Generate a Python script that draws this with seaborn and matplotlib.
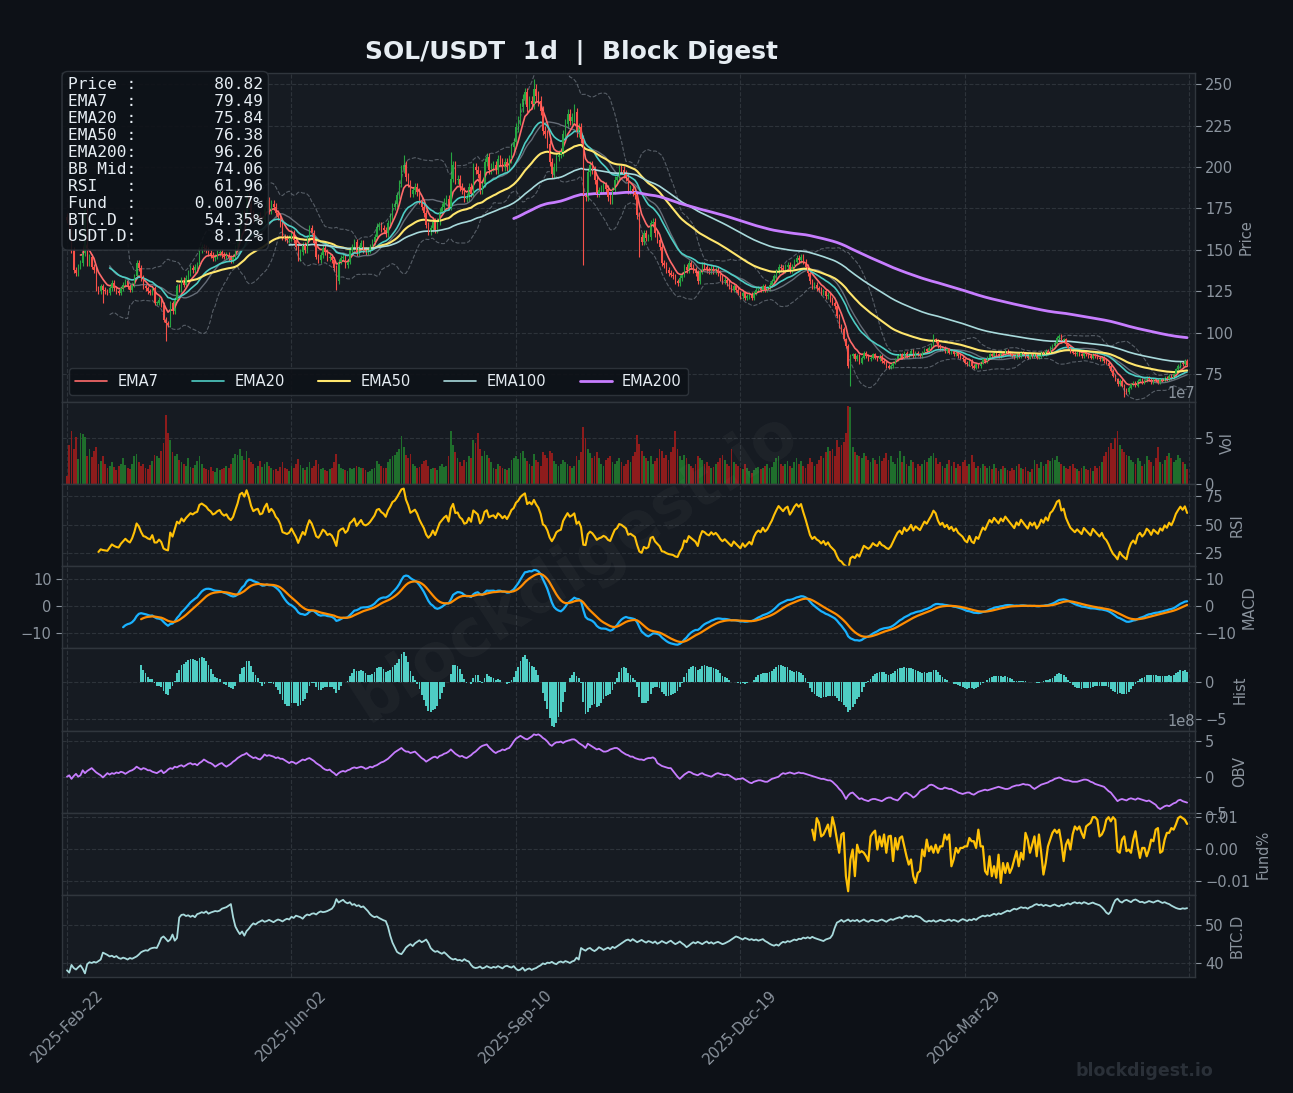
#!/usr/bin/env python3
"""
SOL/USDT 1d dashboard - candles, EMAs, volume and indicator panels.
"""
import numpy as np
import pandas as pd
import matplotlib
matplotlib.use("Agg")
import matplotlib.pyplot as plt
from matplotlib.ticker import MultipleLocator
import seaborn as sns

# ---------------------------------------------------------------- data
start_date = "2025-02-22"
first_open = 170

# daily closes (USDT)
close = [
    168, 164, 150, 138, 136, 140, 142, 148, 174, 142,
    146, 140, 138, 127, 125, 128, 126, 125, 124, 127,
    130, 127, 125, 124, 127, 129, 131, 128, 126, 129,
    134, 142, 139, 133, 128, 127, 125, 124, 127, 118,
    118, 120, 117, 108, 106, 105, 118, 113, 120, 128,
    126, 132, 129, 133, 136, 139, 138, 140, 141, 150,
    152, 151, 150, 148, 147, 145, 146, 148, 149, 147,
    146, 147, 145, 144, 146, 151, 157, 169, 172, 170,
    182, 178, 172, 168, 170, 171, 167, 168, 175, 180,
    174, 178, 176, 172, 170, 166, 158, 157, 156, 157,
    160, 156, 152, 145, 149, 153, 150, 157, 163, 160,
    154, 146, 144, 147, 151, 149, 145, 146, 144, 139,
    131, 143, 145, 146, 141, 143, 150, 152, 155, 148,
    151, 154, 150, 149, 150, 152, 155, 158, 164, 165,
    163, 162, 160, 166, 170, 176, 178, 183, 190, 199,
    201, 194, 190, 184, 186, 188, 185, 180, 176, 172,
    165, 161, 163, 167, 162, 167, 173, 176, 179, 181,
    176, 193, 201, 192, 193, 188, 186, 181, 182, 188,
    184, 200, 198, 196, 186, 190, 203, 206, 198, 200,
    201, 198, 205, 203, 200, 203, 200, 205, 212, 215,
    224, 228, 236, 241, 245, 236, 240, 238, 247, 243,
    240, 234, 222, 220, 214, 203, 196, 200, 206, 208,
    209, 220, 226, 232, 228, 230, 233, 221, 224, 217,
    183, 182, 197, 201, 198, 192, 184, 186, 187, 189,
    187, 182, 180, 186, 192, 194, 199, 198, 196, 194,
    186, 187, 185, 183, 171, 158, 155, 160, 157, 158,
    166, 167, 160, 156, 152, 142, 141, 138, 136, 135,
    134, 131, 130, 133, 135, 140, 138, 142, 140, 138,
    136, 131, 137, 141, 140, 138, 137, 139, 137, 138,
    136, 133, 131, 132, 130, 128, 126, 128, 126, 124,
    122, 124, 121, 122, 123, 121, 124, 126, 127, 126,
    128, 126, 127, 129, 131, 134, 137, 140, 139, 138,
    140, 141, 138, 140, 143, 145, 144, 146, 143, 140,
    136, 131, 128, 129, 127, 126, 124, 125, 122, 123,
    120, 118, 116, 110, 104, 102, 96, 92, 80, 86,
    87, 84, 86, 82, 85, 88, 86, 84, 85, 87,
    85, 84, 86, 83, 82, 80, 79, 80, 82, 84,
    86, 87, 85, 88, 86, 87, 89, 86, 88, 87,
    86, 88, 90, 89, 91, 93, 96, 95, 92, 90,
    91, 89, 90, 88, 89, 87, 88, 86, 85, 84,
    82, 81, 83, 80, 79, 81, 80, 82, 84, 83,
    85, 87, 86, 88, 87, 86, 88, 87, 89, 88,
    87, 86, 85, 87, 86, 88, 87, 86, 85, 87,
    86, 87, 85, 86, 88, 87, 89, 88, 91, 92,
    94, 97, 98, 95, 96, 93, 91, 89, 88, 87,
    88, 87, 86, 88, 87, 86, 85, 87, 86, 85,
    84, 85, 83, 82, 80, 77, 74, 72, 69, 71,
    68, 66, 64, 67, 69, 70, 68, 71, 72, 70,
    71, 73, 72, 70, 72, 71, 70, 72, 71, 73,
    72, 74, 73, 75, 78, 80, 82, 81, 83, 80.82,
]

wick_lows = {16: 118, 44: 95, 120: 126, 230: 141, 255: 146, 349: 68, 471: 61.5}
wick_highs = {8: 180, 150: 207, 171: 209, 208: 253, 226: 238, 386: 99, 442: 99}

# daily volume, millions of SOL
volume_m = [
    9, 42, 58, 38, 51, 27, 56, 54, 51, 30,
    38, 29, 36, 40, 22, 25, 30, 22, 18, 20,
    24, 19, 15, 20, 22, 28, 21, 17, 16, 22,
    30, 33, 24, 20, 22, 18, 16, 21, 25, 32,
    30, 28, 36, 45, 75, 56, 48, 35, 30, 33,
    26, 24, 22, 20, 28, 19, 17, 21, 25, 30,
    22, 18, 16, 15, 19, 14, 13, 17, 15, 16,
    18, 20, 17, 22, 28, 33, 32, 38, 30, 26,
    36, 28, 24, 22, 18, 20, 25, 19, 22, 24,
    20, 17, 15, 16, 14, 19, 24, 18, 16, 14,
    20, 18, 22, 27, 21, 17, 15, 19, 24, 18,
    20, 26, 22, 16, 17, 15, 14, 16, 18, 24,
    33, 22, 18, 16, 15, 14, 17, 16, 18, 20,
    19, 17, 18, 15, 13, 14, 16, 18, 25, 22,
    20, 18, 17, 24, 27, 30, 32, 35, 38, 52,
    40, 32, 28, 33, 22, 20, 18, 19, 22, 25,
    26, 20, 16, 17, 18, 15, 20, 22, 19, 20,
    30, 58, 42, 35, 28, 24, 20, 26, 24, 30,
    28, 48, 45, 55, 38, 30, 36, 32, 28, 24,
    18, 16, 22, 20, 17, 16, 15, 18, 26, 28,
    30, 27, 34, 36, 28, 25, 22, 20, 33, 26,
    24, 20, 35, 32, 28, 36, 34, 25, 22, 20,
    22, 26, 24, 22, 20, 18, 20, 30, 26, 35,
    62, 50, 38, 34, 28, 30, 35, 28, 22, 20,
    26, 28, 30, 24, 22, 25, 28, 24, 20, 22,
    26, 24, 30, 35, 53, 44, 36, 30, 28, 25,
    30, 22, 25, 28, 38, 36, 28, 32, 26, 35,
    40, 58, 38, 30, 26, 32, 28, 22, 20, 18,
    22, 30, 28, 26, 22, 24, 20, 18, 19, 22,
    24, 28, 32, 26, 22, 20, 38, 24, 22, 20,
    18, 16, 22, 18, 14, 12, 15, 17, 19, 16,
    18, 20, 22, 17, 19, 24, 28, 30, 22, 20,
    22, 25, 20, 18, 24, 28, 22, 25, 20, 18,
    22, 28, 24, 20, 22, 26, 30, 28, 35, 40,
    36, 38, 30, 48, 40, 42, 46, 55, 85, 84,
    40, 35, 32, 30, 28, 34, 30, 26, 24, 28,
    26, 22, 30, 25, 28, 34, 26, 30, 24, 22,
    28, 36, 24, 30, 22, 20, 26, 24, 18, 22,
    20, 22, 26, 24, 28, 30, 34, 28, 22, 24,
    20, 18, 22, 26, 20, 24, 18, 22, 20, 24,
    26, 20, 22, 32, 24, 18, 20, 17, 22, 20,
    18, 20, 16, 22, 18, 14, 16, 20, 18, 15,
    14, 17, 15, 20, 22, 18, 16, 19, 14, 13,
    16, 26, 22, 18, 24, 20, 22, 26, 25, 28,
    26, 30, 24, 22, 20, 18, 16, 20, 22, 18,
    16, 14, 18, 20, 16, 15, 17, 14, 20, 18,
    20, 24, 30, 35, 40, 45, 38, 50, 58, 42,
    38, 35, 32, 30, 26, 24, 22, 28, 25, 20,
    22, 30, 26, 24, 20, 28, 40, 24, 22, 26,
    30, 34, 28, 24, 26, 32, 28, 24, 22, 16,
]

# on-balance volume, units of 1e8
obv_e8 = [
    0.0, 0.2, -0.3, 0.1, 0.4, 0.0, 0.2, 0.9, 0.5, 0.8,
    1.0, 1.2, 0.9, 0.6, 0.4, 0.2, -0.1, 0.2, 0.5, 0.3,
    0.5, 0.4, 0.6, 0.5, 0.7, 0.6, 0.4, 0.6, 0.8, 0.9,
    1.1, 1.4, 1.2, 1.0, 1.2, 1.1, 0.9, 0.9, 0.7, 0.6,
    0.5, 0.7, 0.9, 0.5, 0.7, 1.0, 1.2, 1.1, 1.4, 1.3,
    1.5, 1.6, 1.4, 1.6, 1.8, 1.9, 1.7, 1.8, 1.6, 1.9,
    2.1, 2.4, 2.2, 2.0, 1.9, 1.7, 1.4, 1.6, 1.8, 1.9,
    1.6, 1.4, 1.6, 1.8, 2.1, 2.3, 2.6, 2.8, 3.0, 3.1,
    3.3, 3.0, 2.8, 2.6, 2.7, 2.5, 2.4, 2.7, 3.1, 2.9,
    3.0, 2.9, 2.8, 2.6, 2.7, 2.5, 2.5, 2.3, 2.1, 1.9,
    2.1, 2.0, 1.8, 2.0, 2.2, 2.4, 2.3, 2.5, 2.6, 2.4,
    2.2, 1.9, 1.7, 1.5, 1.2, 1.0, 0.9, 1.0, 0.7, 0.5,
    0.2, 0.5, 0.7, 0.8, 0.7, 0.9, 1.0, 1.2, 1.3, 1.2,
    1.3, 1.4, 1.3, 1.1, 1.2, 1.4, 1.3, 1.5, 1.6, 1.8,
    2.0, 2.1, 2.3, 2.5, 2.8, 3.1, 3.4, 3.6, 3.8, 4.0,
    3.7, 3.5, 3.5, 3.3, 3.4, 3.5, 3.2, 2.9, 2.6, 2.4,
    2.1, 2.3, 2.5, 2.7, 2.8, 2.6, 2.9, 3.0, 3.2, 3.3,
    3.5, 3.8, 3.5, 3.2, 3.0, 2.8, 2.9, 2.7, 2.6, 2.8,
    3.0, 3.3, 3.5, 3.8, 4.1, 4.3, 4.4, 4.5, 4.1, 3.8,
    3.5, 3.3, 3.5, 3.6, 3.8, 3.7, 3.9, 4.0, 4.4, 4.9,
    5.3, 5.5, 5.7, 5.5, 5.3, 5.2, 5.4, 5.6, 5.9, 5.8,
    5.9, 5.7, 5.4, 5.2, 4.9, 4.5, 4.3, 4.6, 4.8, 4.8,
    4.9, 4.7, 4.9, 5.0, 5.1, 5.2, 5.2, 5.0, 4.7, 4.5,
    4.3, 4.0, 4.6, 4.4, 4.2, 4.0, 3.8, 3.9, 3.7, 3.5,
    3.5, 3.6, 3.8, 3.9, 4.0, 4.0, 3.8, 3.5, 3.3, 3.1,
    3.0, 2.8, 2.8, 2.6, 2.5, 2.4, 2.4, 2.3, 2.5, 2.6,
    2.6, 2.7, 2.5, 1.9, 1.7, 1.5, 1.4, 1.3, 1.2, 1.2,
    0.8, 0.4, 0.0, -0.3, 0.0, 0.3, 0.5, 0.7, 0.6, 0.4,
    0.3, 0.2, 0.4, 0.5, 0.3, 0.2, 0.1, 0.0, 0.2, 0.4,
    0.5, 0.4, 0.3, 0.2, 0.3, 0.2, 0.0, -0.2, -0.4, -0.3,
    -0.3, -0.2, -0.4, -0.6, -0.8, -0.9, -0.7, -0.6, -0.5, -0.5,
    -0.6, -0.7, -0.7, -0.5, -0.3, -0.2, -0.1, 0.0, 0.3, 0.5,
    0.4, 0.5, 0.6, 0.5, 0.4, 0.5, 0.6, 0.5, 0.5, 0.4,
    0.3, 0.2, 0.1, 0.0, -0.1, -0.2, -0.3, -0.3, -0.4, -0.5,
    -0.5, -0.7, -1.0, -1.3, -1.7, -2.0, -2.5, -3.1, -2.6, -2.3,
    -2.2, -2.5, -2.8, -3.1, -3.0, -3.2, -3.3, -3.4, -3.2, -3.1,
    -3.1, -3.2, -3.3, -3.4, -3.2, -3.0, -2.9, -2.9, -3.1, -3.2,
    -3.3, -3.0, -2.6, -2.3, -2.2, -2.4, -2.6, -2.9, -2.7, -2.4,
    -2.0, -1.8, -1.7, -1.5, -1.2, -1.1, -1.2, -1.4, -1.6, -1.7,
    -1.7, -1.5, -1.6, -1.7, -1.7, -1.9, -2.0, -2.2, -2.3, -2.4,
    -2.3, -2.2, -2.2, -2.4, -2.5, -2.3, -2.1, -2.0, -1.9, -1.8,
    -1.9, -1.8, -1.7, -1.6, -1.5, -1.4, -1.5, -1.6, -1.7, -1.7,
    -1.6, -1.4, -1.3, -1.2, -1.2, -1.1, -1.0, -1.1, -1.1, -1.2,
    -1.5, -1.7, -1.5, -1.3, -1.1, -1.0, -0.9, -0.8, -0.6, -0.5,
    -0.3, -0.2, -0.1, -0.2, -0.4, -0.5, -0.5, -0.6, -0.7, -0.7,
    -0.7, -0.6, -0.5, -0.4, -0.4, -0.5, -0.7, -0.8, -1.0, -1.1,
    -1.2, -1.3, -1.4, -1.7, -2.0, -2.2, -2.6, -3.0, -3.4, -3.2,
    -3.1, -3.2, -3.3, -3.1, -3.0, -3.1, -3.2, -3.0, -3.1, -3.2,
    -3.3, -3.4, -3.3, -3.5, -3.7, -3.9, -4.3, -4.5, -4.3, -4.1,
    -4.0, -4.1, -3.9, -3.7, -3.6, -3.3, -3.2, -3.4, -3.5, -3.6,
]

# funding rate (%), only available for the last candles
funding = [
    0.0059, 0.0026, 0.0095, 0.0080, 0.0038, 0.0044, 0.0059, 0.0075, 0.0038, 0.0098,
    0.0069, 0.0028, -0.0013, 0.0044, 0.0049, -0.0086, -0.0133, -0.0034, -0.0003, -0.0086,
    0.0012, -0.0013, -0.0008, -0.0013, -0.0024, -0.0039, 0.0038, 0.0049, 0.0056, -0.0003,
    0.0038, 0.0007, 0.0044, -0.0013, 0.0038, 0.0040, -0.0039, 0.0033, -0.0003, 0.0033,
    0.0038, 0.0007, -0.0024, -0.0050, -0.0034, -0.0086, -0.0107, -0.0076, -0.0070, -0.0003,
    -0.0024, 0.0028, -0.0008, 0.0007, -0.0013, 0.0012, -0.0013, 0.0007, 0.0007, 0.0044,
    0.0028, 0.0044, -0.0055, -0.0034, 0.0002, -0.0013, 0.0002, 0.0002, 0.0007, 0.0007,
    0.0033, 0.0023, 0.0023, 0.0002, 0.0059, 0.0007, 0.0007, -0.0070, -0.0081, -0.0024,
    -0.0086, -0.0055, -0.0091, -0.0019, -0.0107, -0.0045, -0.0076, -0.0045, -0.0076, -0.0060,
    -0.0034, -0.0008, -0.0055, -0.0013, -0.0034, 0.0049, 0.0028, -0.0013, 0.0012, 0.0038,
    -0.0024, 0.0044, -0.0013, -0.0081, -0.0045, 0.0007, 0.0028, 0.0049, 0.0059, 0.0049,
    0.0059, 0.0018, -0.0039, 0.0012, 0.0028, -0.0003, 0.0044, 0.0069, 0.0059, 0.0069,
    0.0049, 0.0033, 0.0069, 0.0075, 0.0080, 0.0098, 0.0098, 0.0090, 0.0038, 0.0044,
    0.0059, 0.0090, 0.0098, 0.0085, 0.0098, 0.0090, -0.0008, -0.0013, 0.0028, 0.0038,
    -0.0008, -0.0003, -0.0013, 0.0028, 0.0054, 0.0007, -0.0029, 0.0002, 0.0002, -0.0024,
    -0.0003, 0.0028, 0.0023, 0.0059, 0.0064, -0.0013, -0.0008, 0.0028, 0.0049, 0.0049,
    0.0064, 0.0059, 0.0075, 0.0095, 0.0100, 0.0095, 0.0090, 0.0077,
]

# BTC dominance (%)
btc_dom = [
    38.2, 37.6, 39.6, 38.8, 38.4, 39.0, 39.5, 38.6, 37.4, 39.8,
    40.3, 40.1, 40.4, 40.2, 40.6, 41.0, 42.8, 42.5, 42.2, 41.8,
    42.0, 41.6, 41.9, 41.4, 41.2, 41.5, 41.3, 41.0, 41.4, 41.2,
    41.5, 41.8, 42.3, 42.9, 43.2, 43.4, 43.3, 43.8, 44.0, 44.1,
    44.0, 45.2, 46.6, 47.0, 46.4, 45.7, 46.2, 47.5, 45.9, 46.6,
    51.9, 52.6, 52.7, 52.3, 52.5, 52.1, 52.4, 52.0, 52.8, 53.0,
    53.3, 53.1, 53.5, 52.9, 53.2, 53.4, 53.6, 53.5, 53.7, 54.2,
    54.4, 54.6, 55.0, 55.4, 52.0, 49.6, 48.5, 47.6, 48.3, 47.2,
    48.4, 49.0, 49.8, 50.4, 50.1, 50.6, 50.9, 51.2, 50.8, 51.0,
    51.3, 51.0, 50.7, 51.1, 51.4, 51.2, 50.9, 51.3, 51.6, 51.4,
    52.1, 51.8, 52.4, 52.2, 52.0, 51.6, 52.3, 52.7, 52.5, 52.9,
    53.0, 52.7, 53.2, 53.5, 53.3, 53.4, 53.6, 53.9, 54.2, 55.0,
    56.7, 55.8, 56.2, 56.5, 55.9, 55.6, 55.9, 55.2, 55.4, 54.9,
    55.1, 54.6, 54.8, 54.2, 53.6, 52.8, 52.3, 52.0, 52.2, 51.8,
    51.5, 51.2, 51.0, 49.5, 47.2, 45.4, 44.2, 43.0, 42.6, 42.4,
    43.2, 44.1, 44.6, 45.0, 44.5, 45.2, 45.6, 46.0, 45.5, 45.8,
    46.2, 45.3, 44.0, 43.4, 43.0, 43.2, 42.8, 42.5, 42.9, 42.4,
    41.8, 41.3, 41.0, 41.2, 40.8, 40.9, 40.6, 41.1, 40.7, 40.5,
    39.6, 39.0, 38.8, 38.9, 39.2, 38.7, 38.9, 39.3, 39.0, 38.8,
    39.1, 38.9, 39.3, 39.0, 38.7, 39.2, 39.4, 39.1, 38.9, 39.3,
    38.6, 38.2, 38.4, 38.9, 38.1, 38.5, 38.7, 38.3, 38.6, 38.8,
    39.2, 39.5, 40.0, 39.8, 40.2, 40.1, 40.4, 40.0, 39.8, 40.3,
    40.5, 40.2, 40.6, 40.4, 40.1, 40.5, 40.7, 41.5, 41.0, 44.0,
    43.6, 43.3, 43.8, 44.0, 43.5, 43.2, 43.6, 44.2, 43.9, 43.5,
    43.8, 44.1, 43.7, 44.3, 44.0, 44.4, 44.8, 45.2, 45.6, 46.0,
    46.2, 45.8, 46.3, 45.9, 45.5, 45.8, 46.1, 45.7, 45.4, 45.8,
    45.6, 45.3, 45.7, 45.1, 45.4, 45.8, 45.5, 45.2, 45.6, 45.9,
    45.4, 45.0, 45.3, 45.7, 45.2, 44.8, 44.2, 44.6, 45.1, 45.5,
    45.2, 45.6, 45.3, 45.0, 45.4, 45.7, 45.2, 45.5, 45.1, 45.4,
    45.6, 45.3, 45.0, 45.2, 45.5, 45.8, 46.2, 46.6, 47.0, 46.8,
    46.5, 46.2, 46.6, 46.4, 46.1, 46.3, 46.0, 46.2, 45.9, 46.1,
    46.3, 45.8, 45.5, 45.1, 44.8, 44.6, 44.9, 44.6, 45.2, 45.6,
    45.4, 45.8, 45.6, 45.9, 46.2, 46.0, 46.4, 46.3, 46.7, 46.5,
    46.8, 46.5, 46.9, 46.6, 46.4, 46.2, 46.0, 45.8, 46.2, 46.4,
    46.6, 47.4, 49.2, 50.6, 50.9, 51.3, 50.8, 51.1, 51.4, 50.9,
    51.2, 51.0, 51.3, 50.8, 51.1, 51.4, 51.0, 50.8, 51.2, 51.3,
    51.0, 50.9, 51.2, 51.4, 51.1, 50.8, 51.2, 51.5, 51.3, 51.6,
    51.8, 52.0, 51.7, 52.2, 52.4, 52.1, 52.3, 52.0, 52.4, 52.2,
    52.0, 51.5, 51.0, 50.8, 51.1, 50.9, 51.2, 50.8, 51.0, 51.3,
    51.1, 50.9, 51.2, 51.4, 51.0, 51.3, 51.1, 50.8, 51.2, 51.5,
    51.3, 51.0, 51.4, 51.2, 51.6, 51.3, 51.8, 52.1, 52.4, 52.2,
    52.5, 52.3, 52.6, 52.9, 52.6, 53.0, 52.8, 53.1, 53.4, 53.7,
    53.5, 53.9, 54.2, 54.0, 54.3, 54.6, 54.4, 54.5, 54.2, 54.6,
    54.8, 55.2, 55.4, 55.1, 55.3, 54.9, 55.2, 55.0, 54.8, 55.1,
    55.3, 55.0, 54.8, 55.2, 55.0, 55.4, 55.6, 55.3, 55.7, 55.9,
    55.6, 55.8, 55.5, 55.9, 55.7, 55.4, 55.6, 55.8, 55.5, 55.3,
    55.1, 54.6, 54.0, 53.2, 52.8, 53.5, 55.2, 56.4, 56.8, 56.1,
    55.8, 56.3, 56.5, 56.2, 55.9, 56.4, 56.6, 56.3, 55.9, 56.0,
    55.7, 55.9, 56.2, 56.0, 55.8, 56.1, 56.3, 56.0, 55.7, 55.9,
    55.6, 55.4, 55.0, 54.7, 54.4, 54.2, 54.1, 54.3, 54.2, 54.35,
]

# info box (last values as shown on the chart)
info_labels = ["Price", "EMA7", "EMA20", "EMA50", "EMA200", "BB Mid",
               "RSI", "Fund", "BTC.D", "USDT.D"]
info_values = ["80.82", "79.49", "75.84", "76.38", "96.26", "74.06",
               "61.96", "0.0077%", "54.35%", "8.12%"]

ema_spans = [7, 20, 50, 100, 200]
ema_colors = ["#ff6b6b", "#4ecdc4", "#ffe66d", "#a8dadc", "#c77dff"]
ema_widths = [1.2, 1.2, 1.5, 1.2, 2.0]

BG = "#0d1117"
PANEL = "#161b22"
EDGE = "#30363d"
MUTED = "#8b949e"
TXT = "#e6edf3"
UP, DOWN = "#26a641", "#f85149"
VOL_UP, VOL_DOWN = "#1f6e2c", "#8e1c1c"

sns.set_theme(style="dark", rc={
    "figure.facecolor": BG, "axes.facecolor": PANEL, "axes.edgecolor": EDGE,
    "text.color": TXT, "axes.labelcolor": MUTED,
    "xtick.color": MUTED, "ytick.color": MUTED,
})
plt.rcParams["font.family"] = ["DejaVu Sans"]


def ema(s, span):
    out = s.ewm(span=span, adjust=False).mean()
    return out.where(np.arange(len(s)) >= span - 1)


def line(ax, x, y, **kw):
    sns.lineplot(x=x, y=y, ax=ax, estimator=None, errorbar=None, **kw)


def main():
    c = pd.Series(close, dtype=float)
    n = len(c)
    idx = np.arange(n)
    o = c.shift(1).fillna(first_open)
    hi = np.maximum(o, c) * 1.012
    lo = np.minimum(o, c) * 0.988
    for k, v in wick_highs.items():
        hi[k] = v
    for k, v in wick_lows.items():
        lo[k] = v
    up = (c >= o).values
    vol = np.array(volume_m, dtype=float) * 1e6

    # indicators
    emas = [ema(c, s) for s in ema_spans]
    bb_mid = c.rolling(20).mean()
    bb_std = c.rolling(20).std()
    delta = c.diff()
    # Wilder smoothing
    gain = delta.clip(lower=0).ewm(alpha=1 / 14, adjust=False, min_periods=14).mean()
    loss = (-delta.clip(upper=0)).ewm(alpha=1 / 14, adjust=False, min_periods=14).mean()
    rsi = (100 - 100 / (1 + gain / loss)).where(idx >= 12)
    macd = (c.ewm(span=12, adjust=False).mean() - c.ewm(span=26, adjust=False).mean()).where(idx >= 25)
    signal = macd.ewm(span=9, adjust=False).mean().where(idx >= 33)
    hist = (macd - signal)

    fig = plt.figure(figsize=(12.93, 10.93), dpi=100)
    gs = fig.add_gridspec(8, 1, height_ratios=[4, 1, 1, 1, 1, 1, 1, 1],
                          left=0.048, right=0.924, top=0.933, bottom=0.106, hspace=0)
    axes = [fig.add_subplot(gs[0])]
    for i in range(1, 8):
        axes.append(fig.add_subplot(gs[i], sharex=axes[0]))
    ax_p, ax_v, ax_r, ax_m, ax_h, ax_o, ax_f, ax_b = axes

    # price panel
    cols = np.where(up, UP, DOWN)
    ax_p.vlines(idx, lo, hi, colors=cols, linewidth=0.8, zorder=2)
    ax_p.bar(idx, np.maximum((c - o).abs(), 0.3), bottom=np.minimum(o, c),
             width=0.6, color=cols, linewidth=0, zorder=3)
    line(ax_p, idx, (bb_mid + 2 * bb_std).values, color=MUTED, linewidth=0.8, linestyle="--", alpha=0.55)
    line(ax_p, idx, (bb_mid - 2 * bb_std).values, color=MUTED, linewidth=0.8, linestyle="--", alpha=0.55)
    line(ax_p, idx, bb_mid.values, color="#6e7681", linewidth=1.0, alpha=0.9)
    for s, e, col, lw in zip(ema_spans, emas, ema_colors, ema_widths):
        line(ax_p, idx, e.values, color=col, linewidth=lw, label=f"EMA{s}")
    ax_p.set_ylim(58.3, 256.6)
    ax_p.yaxis.set_major_locator(MultipleLocator(25))
    ax_p.set_ylabel("Price")
    handles, labels = ax_p.get_legend_handles_labels()
    leg = ax_p.legend(handles, labels, loc="lower left", ncol=5, fontsize=10.5,
                      facecolor=BG, edgecolor=EDGE, labelcolor=TXT, framealpha=0.9,
                      handlelength=2.2, handletextpad=0.7, columnspacing=2.3)
    leg.set_zorder(10)
    info = "\n".join(f"{k:<6}:{v:>13}" for k, v in zip(info_labels, info_values))
    ax_p.text(0.005, 0.988, info, transform=ax_p.transAxes, va="top", ha="left",
              family="DejaVu Sans Mono", fontsize=11.7, linespacing=1.16, color=TXT, zorder=20,
              bbox=dict(boxstyle="round,pad=0.35", facecolor=BG, edgecolor=EDGE, alpha=0.9))

    # volume
    ax_v.bar(idx, vol, width=0.8, color=np.where(up, VOL_UP, VOL_DOWN), linewidth=0)
    ax_v.set_ylim(0, vol.max() * 1.05)
    ax_v.yaxis.set_major_locator(MultipleLocator(5e7))
    ax_v.set_ylabel("Vol")

    # RSI
    line(ax_r, idx, rsi.values, color="#ffc107", linewidth=1.5)
    ax_r.set_ylim(13.7, 85.5)
    ax_r.yaxis.set_major_locator(MultipleLocator(25))
    ax_r.set_ylabel("RSI")

    # MACD
    line(ax_m, idx, macd.values, color="#1ab2ff", linewidth=1.6)
    line(ax_m, idx, signal.values, color="#ff8c00", linewidth=1.6)
    ax_m.yaxis.set_major_locator(MultipleLocator(10))
    ax_m.set_ylabel("MACD")

    # histogram
    ax_h.bar(idx, hist.fillna(0).values, width=0.8, color="#4ecdc4", linewidth=0)
    ax_h.yaxis.set_major_locator(MultipleLocator(5))
    ax_h.set_ylabel("Hist")

    # OBV
    line(ax_o, np.arange(len(obv_e8)), np.array(obv_e8) * 1e8, color="#c77dff", linewidth=1.3)
    ax_o.yaxis.set_major_locator(MultipleLocator(5e8))
    ax_o.set_ylabel("OBV")

    # funding
    f0 = n - len(funding)
    line(ax_f, np.arange(f0, n), np.array(funding), color="#ffc107", linewidth=1.6)
    ax_f.yaxis.set_major_locator(MultipleLocator(0.01))
    ax_f.set_ylabel("Fund%")

    # BTC dominance
    line(ax_b, np.arange(len(btc_dom)), np.array(btc_dom), color="#a8dadc", linewidth=1.3)
    ax_b.yaxis.set_major_locator(MultipleLocator(10))
    ax_b.set_ylabel("BTC.D")

    for ax in axes:
        ax.set_facecolor(PANEL)
        ax.yaxis.tick_right()
        ax.yaxis.set_label_position("right")
        ax.tick_params(axis="y", colors=MUTED, labelsize=10.5, length=4, width=0.8, right=True)
        ax.tick_params(axis="x", length=0, labelbottom=False)
        ax.yaxis.get_offset_text().set_color(MUTED)
        ax.yaxis.get_offset_text().set_fontsize(10.5)
        ax.yaxis.label.set_fontsize(10.5)
        ax.yaxis.label.set_color(MUTED)
        ax.grid(True, color=EDGE, linestyle="--", linewidth=0.8, alpha=0.9)
        for sp in ax.spines.values():
            sp.set_color(EDGE)
            sp.set_linewidth(1.0)
    ax_m.tick_params(axis="y", left=True, labelleft=True)

    tick_pos = list(range(0, n + 1, 100))
    dates = pd.Timestamp(start_date) + pd.to_timedelta(tick_pos, unit="D")
    tick_lab = [d.strftime("%Y-%b-%d") if p < n - 1 else "" for p, d in zip(tick_pos, dates)]
    ax_b.set_xticks(tick_pos)
    ax_b.set_xticklabels(tick_lab, rotation=45)
    ax_b.tick_params(axis="x", length=4, width=0.8, labelbottom=True, labelsize=10.8, colors=MUTED)
    ax_b.set_xlim(-2.2, 502.4)
    ax_b.set_xlabel("")

    fig.text(0.442, 0.952, "SOL/USDT  1d  |  Block Digest", ha="center", va="center",
             fontsize=18, fontweight="bold", color=TXT)
    fig.text(0.445, 0.481, "blockdigest.io", ha="center", va="center", rotation=33,
             fontsize=47, fontweight="bold", color="white", alpha=0.035)
    fig.text(0.938, 0.02, "blockdigest.io", ha="right", va="center",
             fontsize=12.5, fontweight="bold", color="#2a3038")

    fig.savefig("out.png", dpi=100, facecolor=BG)
    plt.close(fig)


if __name__ == "__main__":
    main()
